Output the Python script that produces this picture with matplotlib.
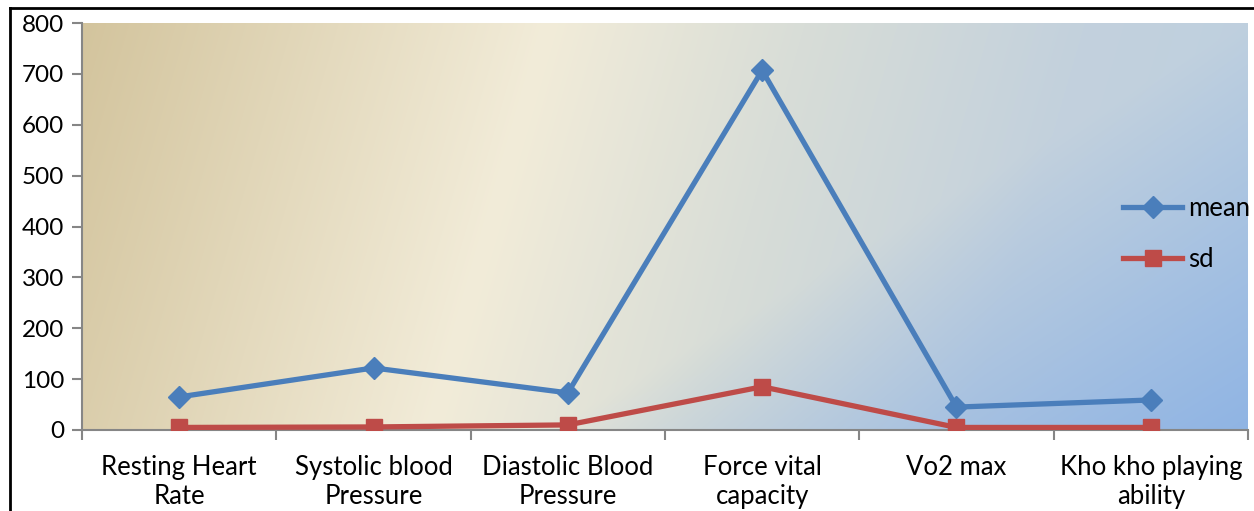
import numpy as np
import matplotlib
matplotlib.use("Agg")
import matplotlib.pyplot as plt
from matplotlib.colors import to_rgb
from matplotlib.lines import Line2D

categories = ["Resting Heart\nRate", "Systolic blood\nPressure", "Diastolic Blood\nPressure",
              "Force vital\ncapacity", "Vo2 max", "Kho kho playing\nability"]
mean_vals = [65, 122, 73, 707, 45, 59]
sd_vals = [5, 6, 10, 85, 5, 5]
yticks = [0, 100, 200, 300, 400, 500, 600, 700, 800]

plt.rcParams['font.family'] = ['Lato', 'DejaVu Sans']

fig = plt.figure(figsize=(12.54, 5.11), dpi=100)
ax = fig.add_axes([82/1254, 1-430/511, (1248-82)/1254, (430-23)/511])

# gradient background (row 0 = top of plot)
stops = [(0.0, "#d3c49d"), (0.40, "#f2ecd9"), (0.62, "#d8ddd7"), (0.86, "#c3d1dd"),
         (1.1, "#bccfe0")]
H, W = 200, 600
xf = np.linspace(0, 1, W)[None, :]
yf = np.linspace(0, 1, H)[:, None]
t = xf + 0.10 * yf
img = np.zeros((H, W, 3))
pos = [s[0] for s in stops]
cols = np.array([to_rgb(s[1]) for s in stops])
for c in range(3):
    img[..., c] = np.interp(t, pos, cols[:, c])
blue = np.array(to_rgb("#8cb2e4"))
w = np.clip((xf + 0.6 * yf - 1.0) / 0.65, 0, 1)[..., None]
img = img * (1 - w) + blue * w
ax.imshow(img, extent=[-0.5, 5.5, 0, 800], origin='upper', aspect='auto', zorder=0,
          interpolation='bilinear')
ax.set_ylim(0, 800)
ax.set_xlim(-0.5, 5.5)

x = np.arange(len(categories))
ax.plot(x, mean_vals, color="#4a7ebb", lw=3.8, marker='D', ms=11, label="mean", zorder=3)
ax.plot(x, sd_vals, color="#be4b48", lw=3.8, marker='s', ms=12, label="sd", zorder=3)

for s in ['top', 'right']:
    ax.spines[s].set_visible(False)
for s in ['left', 'bottom']:
    ax.spines[s].set_color('#868686')
    ax.spines[s].set_linewidth(1.5)

ax.set_yticks(yticks)
ax.tick_params(axis='y', direction='out', length=7, width=1.5, color='#868686', labelsize=17.5, pad=6)
ax.set_xticks(x)
ax.set_xticklabels(categories, fontsize=18.5, linespacing=1.2)
ax.tick_params(axis='x', which='major', length=0, pad=18)
ax.set_xticks(np.arange(-0.5, 6.0, 1.0), minor=True)
ax.tick_params(axis='x', which='minor', direction='out', length=7, width=1.5, color='#868686')

leg = ax.legend(loc='center left', bbox_to_anchor=(0.873, 0.482), frameon=False, fontsize=18.5,
                handlelength=2.3, labelspacing=1.0, handletextpad=0.25)

# figure border
fig.add_artist(Line2D([10/1254, 1.0], [1-8/511, 1-8/511], color='black', lw=2, transform=fig.transFigure))
fig.add_artist(Line2D([10/1254, 10/1254], [0, 1-8/511], color='black', lw=2, transform=fig.transFigure))

fig.savefig("out.png", dpi=100)
